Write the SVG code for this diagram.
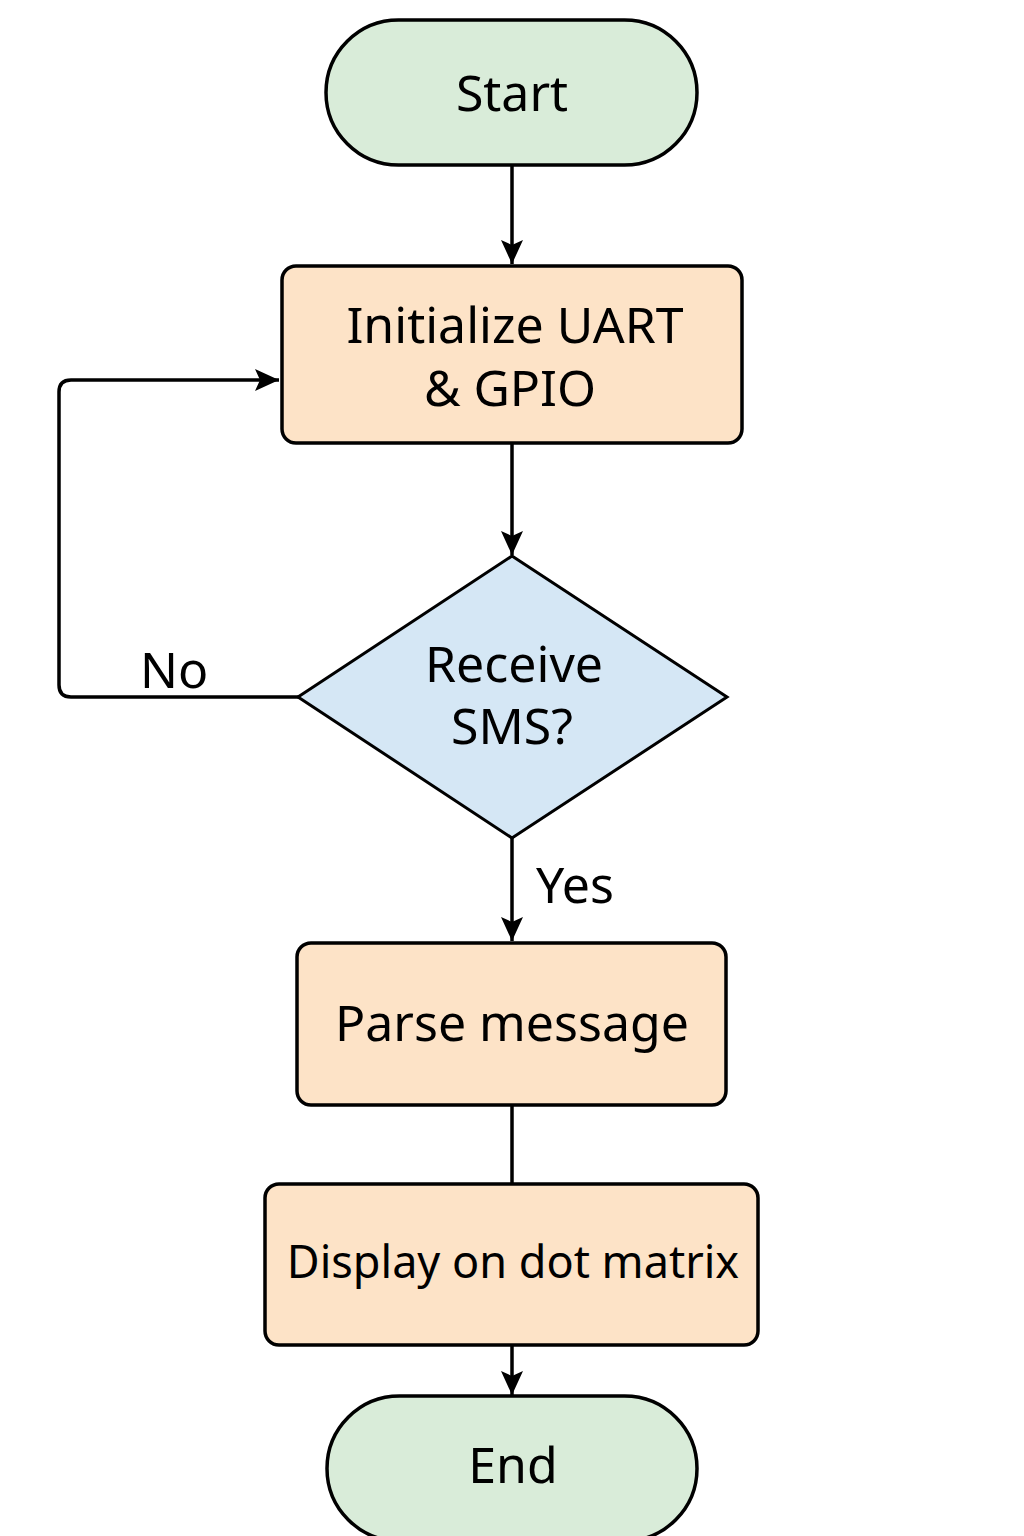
<svg xmlns="http://www.w3.org/2000/svg" width="1024" height="1536" viewBox="0 0 1024 1536">
<style>
.term{fill:#d9ecd9;stroke:#000;stroke-width:3.5}
.proc{fill:#fde3c7;stroke:#000;stroke-width:3.5}
.dec{fill:#d5e7f5;stroke:#000;stroke-width:3}
.lbl{font-family:"Noto Sans","Open Sans",sans-serif;font-size:50px;fill:#000;text-anchor:middle}
.edge{fill:none;stroke:#000;stroke-width:3.5}
.el{font-family:"Noto Sans","Open Sans",sans-serif;font-size:50px;fill:#000}
</style>
<defs>
<marker id="ah" viewBox="0 0 24 24" refX="24" refY="12" markerWidth="24" markerHeight="24" markerUnits="userSpaceOnUse" orient="auto">
<path d="M0,1 L24,12 L0,23 L5,12 Z" fill="#000"/>
</marker>
</defs>
<rect width="1024" height="1536" fill="#fff"/>
<g id="connectors">
<line class="edge" x1="512" y1="165" x2="512" y2="264" marker-end="url(#ah)"/>
<line class="edge" x1="512" y1="443" x2="512" y2="555" marker-end="url(#ah)"/>
<line class="edge" x1="512" y1="838" x2="512" y2="941" marker-end="url(#ah)"/>
<line class="edge" x1="512" y1="1105" x2="512" y2="1184"/>
<line class="edge" x1="512" y1="1345" x2="512" y2="1395" marker-end="url(#ah)"/>
<path class="edge" d="M298,697 H71 Q59,697 59,685 V392 Q59,380 71,380 H279" marker-end="url(#ah)"/>
<text class="el" x="140" y="688">No</text>
<text class="el" x="536" y="903">Yes</text>
</g>
<g id="start">
<rect class="term" x="326" y="20" width="371" height="145" rx="72.5"/>
<text class="lbl" x="512" y="111">Start</text>
</g>
<g id="init">
<rect class="proc" x="282" y="266" width="460" height="177" rx="14"/>
<text class="lbl" x="515" y="343">Initialize UART</text>
<text class="lbl" x="510" y="406">&amp; GPIO</text>
</g>
<g id="decision">
<polygon class="dec" points="512,556 727,697 512,838 298,697"/>
<text class="lbl" x="514" y="682">Receive</text>
<text class="lbl" x="512" y="744">SMS?</text>
</g>
<g id="parse">
<rect class="proc" x="297" y="943" width="429" height="162" rx="14"/>
<text class="lbl" x="512" y="1041">Parse message</text>
</g>
<g id="display">
<rect class="proc" x="265" y="1184" width="493" height="161" rx="14"/>
<text class="lbl" x="513" y="1278" style="font-size:45px">Display on dot matrix</text>
</g>
<g id="end">
<rect class="term" x="327" y="1396" width="370" height="145" rx="72.5"/>
<text class="lbl" x="513" y="1483">End</text>
</g>
</svg>
